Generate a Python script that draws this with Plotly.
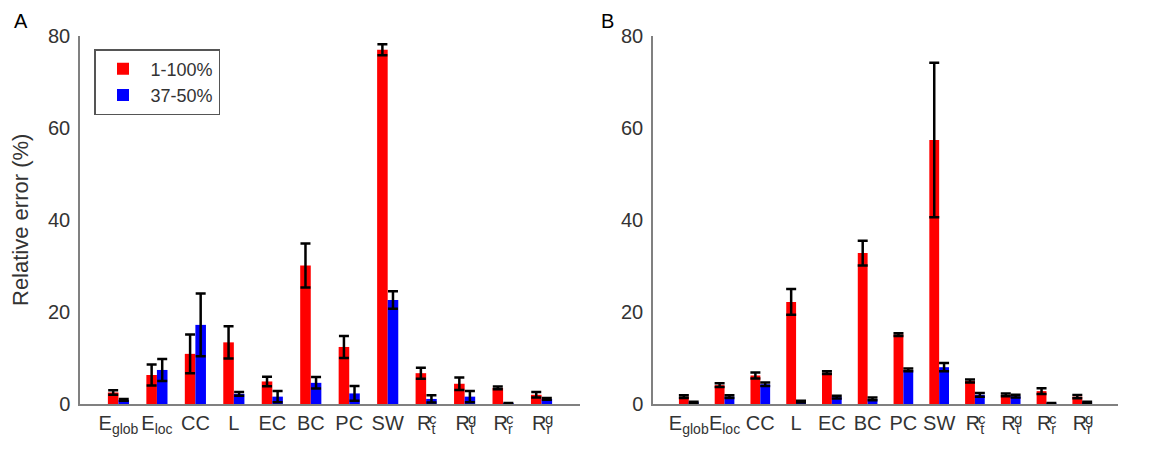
import plotly.graph_objects as go

categories = ["E_glob", "E_loc", "CC", "L", "EC", "BC", "PC", "SW", "R_t^c", "R_t^g", "R_r^c", "R_r^g"]
tick_main = ["E<sub>glob</sub>", "E<sub>loc</sub>", "CC", "L", "EC", "BC", "PC", "SW",
             "R<sub>t</sub>", "R<sub>t</sub>", "R<sub>r</sub>", "R<sub>r</sub>"]
tick_sup = ["", "", "", "", "", "", "", "", "c", "g", "c", "g"]
series_names = ["1-100%", "37-50%"]

A_red = [2.5, 6.3, 10.9, 13.4, 4.9, 30.1, 12.4, 77.0, 6.7, 4.4, 3.5, 2.0]
A_red_err = [0.5, 2.3, 4.2, 3.5, 1.05, 4.8, 2.4, 1.2, 1.2, 1.35, 0.3, 0.6]
A_blue = [0.9, 7.4, 17.2, 2.2, 1.6, 4.6, 2.3, 22.6, 1.1, 1.6, 0.1, 1.1]
A_blue_err = [0.2, 2.4, 6.8, 0.4, 1.2, 1.25, 1.6, 1.9, 0.8, 1.2, 0.1, 0.2]

B_red = [1.6, 4.1, 6.2, 22.2, 6.8, 32.8, 15.1, 57.4, 5.0, 2.0, 2.8, 1.6]
B_red_err = [0.3, 0.4, 0.65, 2.8, 0.3, 2.7, 0.3, 16.8, 0.35, 0.3, 0.6, 0.35]
B_blue = [0.3, 1.6, 4.3, 0.5, 1.5, 1.1, 7.4, 8.0, 2.0, 1.7, 0.1, 0.3]
B_blue_err = [0.2, 0.3, 0.4, 0.2, 0.3, 0.3, 0.3, 0.9, 0.4, 0.3, 0.1, 0.2]

y_ticks = [0, 20, 40, 60, 80]

xpos = list(range(1, len(categories) + 1))
RED = "#FF0000"
BLUE = "#0000FF"
FONT = "Liberation Sans, Arial, sans-serif"
TXT = "#333333"

fig = go.Figure()

def add_bars(vals, errs, color, name, xa, ya, show):
    fig.add_trace(go.Bar(
        x=xpos, y=vals, name=name, marker=dict(color=color, line=dict(width=0)),
        error_y=dict(type="data", array=errs, visible=True, color="black",
                     thickness=2.5, width=5),
        xaxis=xa, yaxis=ya, showlegend=show, offsetgroup=name,
    ))

add_bars(A_red, A_red_err, RED, series_names[0], "x", "y", True)
add_bars(A_blue, A_blue_err, BLUE, series_names[1], "x", "y", True)
add_bars(B_red, B_red_err, RED, series_names[0], "x2", "y2", False)
add_bars(B_blue, B_blue_err, BLUE, series_names[1], "x2", "y2", False)

xcommon = dict(range=[0, 13], tickvals=xpos, ticktext=tick_main, showline=True,
               linecolor="#808080", linewidth=1.5, ticks="", ticklen=0, showgrid=False,
               zeroline=False, tickfont=dict(family=FONT, size=20, color=TXT),
               ticklabelstandoff=0, tickangle=0, automargin=False)
ycommon = dict(range=[0, 80], tickvals=y_ticks, showline=True, linecolor="#808080",
               linewidth=1.5, ticks="", ticklen=0, showgrid=False, zeroline=False,
               tickfont=dict(family=FONT, size=20, color=TXT), ticklabelstandoff=4,
               automargin=False)

annotations = []
for xa, ya in (("x", "y"), ("x2", "y2")):
    for xv, s in zip(xpos, tick_sup):
        if s:
            annotations.append(dict(text=s, x=xv, y=0, xref=xa, yref=ya, showarrow=False,
                                    xanchor="center", yanchor="middle",
                                    xshift=7, yshift=-14, font=dict(family=FONT, size=15, color=TXT)))

annotations += [
    dict(text="Relative error (%)", textangle=-90, x=(20 - 80) / 1038, y=0.5,
         xref="paper", yref="paper", xanchor="center", yanchor="middle",
         showarrow=False, font=dict(family=FONT, size=22, color=TXT)),
    dict(text="A", x=(21 - 80) / 1038, y=1.0, xref="paper", yref="paper",
         xanchor="center", yanchor="middle", yshift=15, showarrow=False,
         font=dict(family=FONT, size=20, color="black")),
    dict(text="B", x=(607 - 80) / 1038, y=1.0, xref="paper", yref="paper",
         xanchor="center", yanchor="middle", yshift=15,
         showarrow=False, font=dict(family=FONT, size=20, color="black")),
]

fig.update_layout(
    width=1149, height=444,
    margin=dict(l=72, r=39, t=28, b=48, autoexpand=False),
    plot_bgcolor="white", paper_bgcolor="white",
    barmode="group", bargap=0.45, bargroupgap=0,
    xaxis=dict(domain=[0, 500 / 1038], **xcommon),
    yaxis=dict(**ycommon),
    xaxis2=dict(domain=[573 / 1038, 1], anchor="y2", **xcommon),
    yaxis2=dict(anchor="x2", **ycommon),
    legend=dict(x=(94 - 80) / 1038, y=1 - (49 - 36) / 368, xanchor="left", yanchor="top",
                bgcolor="white", bordercolor="#555555", borderwidth=1.5,
                font=dict(family=FONT, size=18, color=TXT), traceorder="normal",
                itemwidth=45, tracegroupgap=0),
    annotations=annotations,
    font=dict(family=FONT),
)

fig.write_html("out.html")
